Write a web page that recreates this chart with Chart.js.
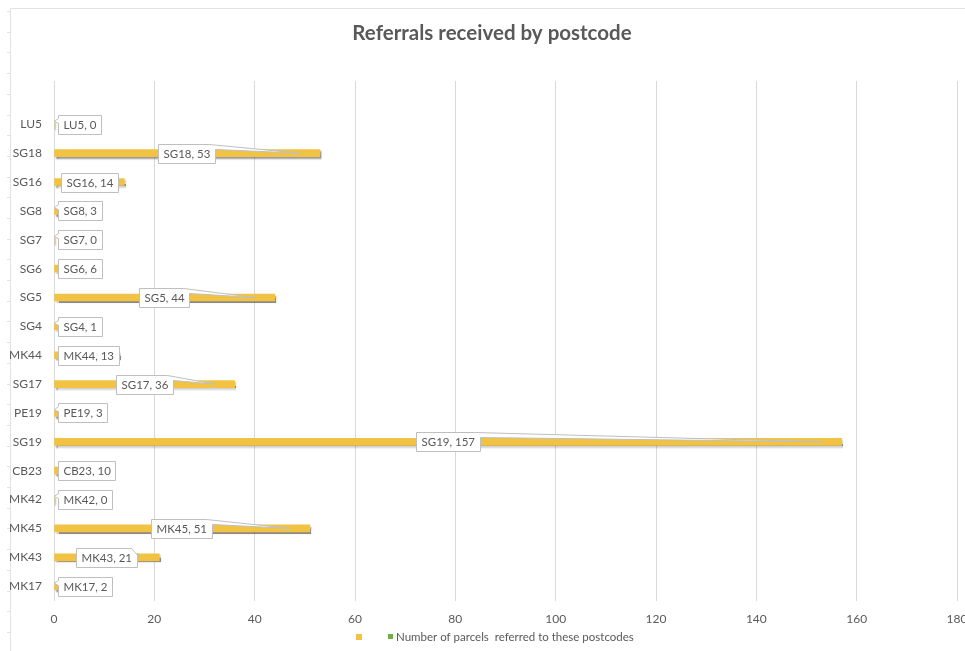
<!DOCTYPE html>
<html>
<head>
<meta charset="utf-8">
<script src="https://cdn.jsdelivr.net/npm/chart.js@4.4.0/dist/chart.umd.min.js"></script>
<style>
  html, body { margin: 0; padding: 0; background: #fff; }
  canvas { display: block; }
</style>
</head>
<body>
<canvas id="chart" width="965" height="651"></canvas>
<script>
// =========================
// DATA (top to bottom, first slot is the empty row above LU5)
// =========================
const postcodes = ["", "LU5", "SG18", "SG16", "SG8", "SG7", "SG6", "SG5", "SG4", "MK44",
                   "SG17", "PE19", "SG19", "CB23", "MK42", "MK45", "MK43", "MK17"];
const parcels = [null, 0, 53, 14, 3, 0, 6, 44, 1, 13, 36, 3, 157, 10, 0, 51, 21, 2];
const axisMin = 0;
const axisMax = 180;
const axisStep = 20;
const titleText = "Referrals received by postcode";
const seriesName = "Number of parcels  referred to these postcodes";

const textGrey = "#595959";
const barYellow = "#F2C343";
const fontFamily = "Lato, 'Open Sans', sans-serif";

// light frame round the picture (top line + left ruler) and the title
const framePlugin = {
    id: "frame",
    beforeDraw(chart) {
        const ctx = chart.ctx;
        ctx.save();
        ctx.fillStyle = "#fff";
        ctx.fillRect(0, 0, chart.width, chart.height);
        ctx.strokeStyle = "#e2e2e2";
        ctx.lineWidth = 1;
        ctx.beginPath();
        ctx.moveTo(10.5, 8.5);
        ctx.lineTo(chart.width, 8.5);
        ctx.moveTo(10.5, 8.5);
        ctx.lineTo(10.5, chart.height);
        for (let y = 11; y < chart.height; y += 20.7) {
            ctx.moveTo(7, Math.round(y) + 0.5);
            ctx.lineTo(10.5, Math.round(y) + 0.5);
        }
        ctx.stroke();

        // title (slightly left of the plot centre, like the original)
        ctx.fillStyle = textGrey;
        ctx.font = "bold 20.5px " + fontFamily;
        ctx.textAlign = "center";
        ctx.textBaseline = "middle";
        ctx.fillText(titleText, 492, 33);
        ctx.restore();
    }
};

// bar shadow + callout labels
const calloutPlugin = {
    id: "callouts",
    beforeDatasetsDraw(chart) {
        const ctx = chart.ctx;
        ctx.save();
        ctx.shadowColor = "rgba(60,60,60,0.6)";
        ctx.shadowOffsetX = 1.5;
        ctx.shadowOffsetY = 2;
        ctx.shadowBlur = 1.5;
    },
    afterDatasetsDraw(chart) {
        const ctx = chart.ctx;
        ctx.restore();

        const meta = chart.getDatasetMeta(0);
        const left = chart.chartArea.left;
        ctx.save();
        ctx.font = "11.5px " + fontFamily;
        ctx.textBaseline = "middle";
        ctx.textAlign = "left";

        meta.data.forEach((bar, i) => {
            const v = parcels[i];
            if (v === null || v === undefined) return;
            const text = postcodes[i] + ", " + v;
            const w = Math.round(ctx.measureText(text).width + 10);
            const h = 19;
            let cx = (left + bar.x) / 2;
            if (cx - w / 2 < left + 4) cx = left + 4 + w / 2;
            const bx = Math.round(cx - w / 2) + 0.5;
            const by = Math.round(bar.y - h / 2) + 0.5;
            const tipX = Math.max(bar.x - 20, left);
            const tipY = bar.y;

            ctx.beginPath();
            ctx.moveTo(bx, by);
            if (tipX > bx + w) {
                // pointer off the top right corner
                ctx.lineTo(bx + w - 6, by);
                ctx.lineTo(tipX, tipY);
                ctx.lineTo(bx + w, by + 5);
                ctx.lineTo(bx + w, by + h);
                ctx.lineTo(bx, by + h);
                ctx.closePath();
            } else if (tipX < bx) {
                // pointer off the left side
                ctx.lineTo(bx + w, by);
                ctx.lineTo(bx + w, by + h);
                ctx.lineTo(bx, by + h);
                ctx.lineTo(bx, by + 8);
                ctx.lineTo(tipX, tipY - 3);
                ctx.lineTo(bx, by + 3);
                ctx.closePath();
            } else {
                ctx.rect(bx, by, w, h);
            }
            ctx.fillStyle = "#fff";
            ctx.fill();
            ctx.strokeStyle = "#bfbfbf";
            ctx.lineWidth = 1;
            ctx.stroke();

            ctx.fillStyle = textGrey;
            ctx.fillText(text, bx + 5, by + h / 2 + 0.5);
        });
        ctx.restore();
    }
};

// legend sits under the axis numbers, drawn by hand
const legendPlugin = {
    id: "handLegend",
    afterDraw(chart) {
        const ctx = chart.ctx;
        ctx.save();
        ctx.fillStyle = barYellow;
        ctx.fillRect(356, 634, 6, 6);
        ctx.fillStyle = "#70AD47";
        ctx.fillRect(388, 634, 5, 5);
        ctx.fillStyle = textGrey;
        ctx.font = "11.5px " + fontFamily;
        ctx.textBaseline = "middle";
        ctx.fillText(seriesName, 396, 637);
        ctx.restore();
    }
};

new Chart(document.getElementById("chart"), {
    type: "bar",
    data: {
        labels: postcodes,
        datasets: [{
            label: seriesName,
            data: parcels,
            backgroundColor: barYellow,
            barThickness: 7
        }]
    },
    plugins: [framePlugin, calloutPlugin, legendPlugin],
    options: {
        indexAxis: "y",
        responsive: false,
        animation: false,
        layout: {
            padding: { left: 0, right: 8, top: 81, bottom: 14 }
        },
        scales: {
            x: {
                min: axisMin,
                max: axisMax,
                ticks: {
                    stepSize: axisStep,
                    color: textGrey,
                    font: { family: fontFamily, size: 12 },
                    padding: 11
                },
                grid: { color: "#d9d9d9", drawTicks: false },
                border: { display: false },
                afterFit(scale) {
                    scale.paddingLeft = 0;
                    scale.paddingRight = 0;
                }
            },
            y: {
                ticks: {
                    color: textGrey,
                    font: { family: fontFamily, size: 12 },
                    padding: 12
                },
                grid: { display: false, drawTicks: false },
                border: { display: false },
                afterFit(scale) { scale.width = 54; }
            }
        },
        plugins: {
            legend: { display: false },
            tooltip: { enabled: false },
            title: { display: false }
        }
    }
});
</script>
</body>
</html>
